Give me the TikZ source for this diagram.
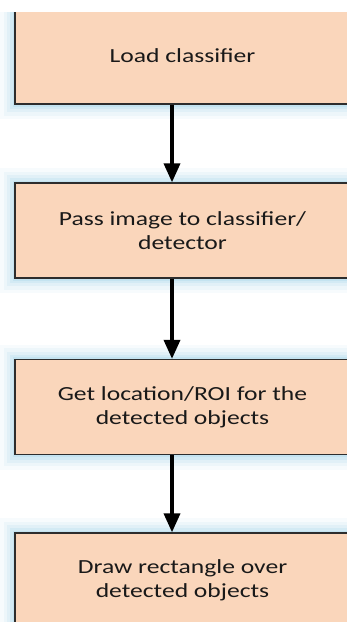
\documentclass[tikz,border=0pt]{standalone}
\usepackage{fontspec}
\setmainfont{Carlito}[FakeStretch=1.28]
\usetikzlibrary{arrows.meta,positioning}

\definecolor{peach}{RGB}{250,214,187}
\definecolor{glowblue}{RGB}{150,205,228}
\definecolor{edgegray}{RGB}{45,45,45}

\tikzset{
  stepbox/.style={draw=edgegray, line width=1.3pt, fill=peach,
    minimum width=335pt, minimum height=95pt, align=center,
    text=black!90, font=\fontsize{20}{24}\selectfont,
    preaction={draw=glowblue, line width=30pt, opacity=0.08},
    preaction={draw=glowblue, line width=23pt, opacity=0.1},
    preaction={draw=glowblue, line width=16pt, opacity=0.14},
    preaction={draw=glowblue, line width=10pt, opacity=0.18},
    preaction={draw=glowblue, line width=5pt, opacity=0.25}},
  flow/.style={line width=3.6pt, -{Triangle[width=16pt,length=19pt]}}
}

\begin{document}
\begin{tikzpicture}[x=1pt,y=-1pt]
\useasboundingbox (0,0) rectangle (347,622);
\clip (0,0) rectangle (347,622);
% first box runs off the top of the page
\begin{scope}
  \clip (0,12) rectangle (347,200);
  \node[stepbox, minimum height=96pt] (load) at (182.5,56) {Load classifier};
\end{scope}
\node[stepbox] (pass) at (182.5,230.5) {Pass image to classifier/\\detector};
\node[stepbox] (roi)  at (182.5,407)   {Get location/ROI for the\\detected objects};
\node[stepbox] (rect) at (182.5,580.5) {Draw rectangle over\\detected objects};
\foreach \a/\b in {load/pass, pass/roi, roi/rect}
  \draw[flow] ([xshift=-10.5pt]\a.south) -- ([xshift=-10.5pt]\b.north);
\end{tikzpicture}
\end{document}
